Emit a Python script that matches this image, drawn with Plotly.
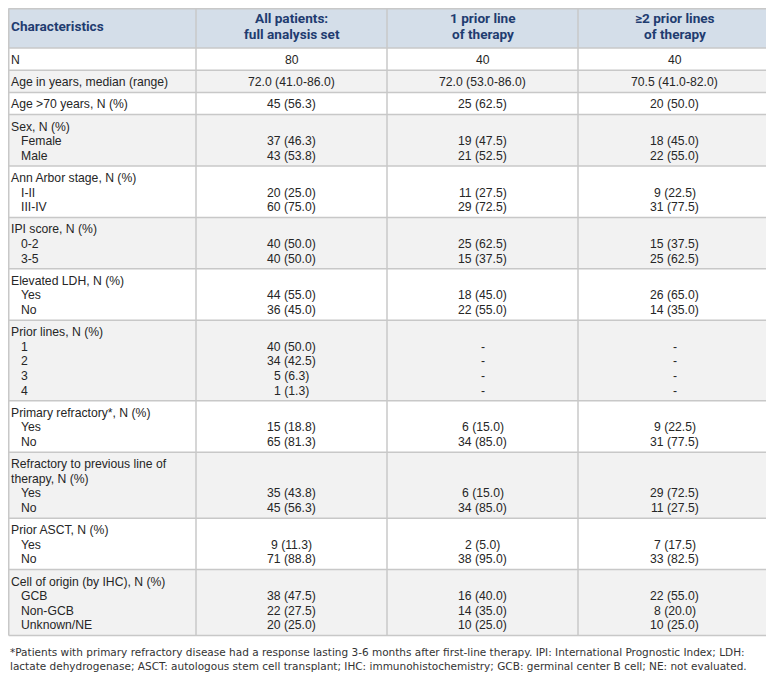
import plotly.graph_objects as go

# Judul kolom (tiap baris teks header dipisah)
col_headers = [["Characteristics"], ["All patients:", "full analysis set"],
               ["1 prior line", "of therapy"], ["≥2 prior lines", "of therapy"]]

# Baris karakteristik (judul bisa lebih dari satu baris) dan sub-kategori
row_titles = [["N"], ["Age in years, median (range)"], ["Age >70 years, N (%)"],
              ["Sex, N (%)"], ["Ann Arbor stage, N (%)"], ["IPI score, N (%)"],
              ["Elevated LDH, N (%)"], ["Prior lines, N (%)"],
              ["Primary refractory*, N (%)"],
              ["Refractory to previous line of", "therapy, N (%)"],
              ["Prior ASCT, N (%)"], ["Cell of origin (by IHC), N (%)"]]
sub_levels = [[], [], [], ["Female", "Male"], ["I-II", "III-IV"],
              ["0-2", "3-5"], ["Yes", "No"], ["1", "2", "3", "4"],
              ["Yes", "No"], ["Yes", "No"], ["Yes", "No"],
              ["GCB", "Non-GCB", "Unknown/NE"]]

# Nilai per kolom
all_patients = [["80"], ["72.0 (41.0-86.0)"], ["45 (56.3)"],
                ["37 (46.3)", "43 (53.8)"], ["20 (25.0)", "60 (75.0)"],
                ["40 (50.0)", "40 (50.0)"], ["44 (55.0)", "36 (45.0)"],
                ["40 (50.0)", "34 (42.5)", "5 (6.3)", "1 (1.3)"],
                ["15 (18.8)", "65 (81.3)"], ["35 (43.8)", "45 (56.3)"],
                ["9 (11.3)", "71 (88.8)"],
                ["38 (47.5)", "22 (27.5)", "20 (25.0)"]]
one_prior = [["40"], ["72.0 (53.0-86.0)"], ["25 (62.5)"],
             ["19 (47.5)", "21 (52.5)"], ["11 (27.5)", "29 (72.5)"],
             ["25 (62.5)", "15 (37.5)"], ["18 (45.0)", "22 (55.0)"],
             ["-", "-", "-", "-"],
             ["6 (15.0)", "34 (85.0)"], ["6 (15.0)", "34 (85.0)"],
             ["2 (5.0)", "38 (95.0)"],
             ["16 (40.0)", "14 (35.0)", "10 (25.0)"]]
two_plus_prior = [["40"], ["70.5 (41.0-82.0)"], ["20 (50.0)"],
                  ["18 (45.0)", "22 (55.0)"], ["9 (22.5)", "31 (77.5)"],
                  ["15 (37.5)", "25 (62.5)"], ["26 (65.0)", "14 (35.0)"],
                  ["-", "-", "-", "-"],
                  ["9 (22.5)", "31 (77.5)"], ["29 (72.5)", "11 (27.5)"],
                  ["7 (17.5)", "33 (82.5)"],
                  ["22 (55.0)", "8 (20.0)", "10 (25.0)"]]

footnote_lines = [
    "*Patients with primary refractory disease had a response lasting 3-6 months after "
    "first-line therapy. IPI: International Prognostic Index; LDH:",
    "lactate dehydrogenase; ASCT: autologous stem cell transplant; IHC: immunohistochemistry; "
    "GCB: germinal center B cell; NE: not evaluated.",
]

# Tata letak (piksel halaman). Halaman html punya margin body 8px,
# jadi sumbu digeser 8px supaya posisi cocok dengan gambar asli.
PAGE_OFF = 8
col_edges = [2, 196, 387, 578, 771]
table_top = 3
header_h = 45
line_h = 14.6
pad = 3.8
left_text_x = 9
indent = 10

HEADER_BG = "#d4dee9"
ROW_BG = ["#ffffff", "#f2f2f2"]
GRID = "#c8c8c8"
HEADER_FONT = dict(family="Roboto", size=13.6, color="#1f3c70", weight="bold")
BODY_FONT = dict(family="Liberation Sans", size=12.2, color="#262626")

fig = go.Figure()


def text_at(x, y, s, anchor, font):
    fig.add_annotation(x=x, y=y, xref="x", yref="y", text=s, showarrow=False,
                       xanchor=anchor, yanchor="middle", font=font)


# Header
fig.add_shape(type="rect", x0=col_edges[0], x1=col_edges[-1], y0=table_top,
              y1=table_top + header_h, fillcolor=HEADER_BG, line_width=0, layer="below")
for c, lines in enumerate(col_headers):
    n = len(lines)
    for i, s in enumerate(lines):
        y = table_top + header_h / 2 + (i - (n - 1) / 2) * 16
        if c == 0:
            text_at(left_text_x, y, s, "left", HEADER_FONT)
        else:
            text_at((col_edges[c] + col_edges[c + 1]) / 2, y, s, "center", HEADER_FONT)

# Body
value_cols = [all_patients, one_prior, two_plus_prior]
row_edges = [table_top + header_h]
for r, (title, subs) in enumerate(zip(row_titles, sub_levels)):
    top = row_edges[-1]
    n_lines = len(title) + len(subs)
    bottom = top + 2 * pad + n_lines * line_h
    fig.add_shape(type="rect", x0=col_edges[0], x1=col_edges[-1], y0=top, y1=bottom,
                  fillcolor=ROW_BG[r % 2], line_width=0, layer="below")

    def line_y(i):
        return top + pad + (i + 0.5) * line_h + 0.8

    for i, s in enumerate(title):
        text_at(left_text_x, line_y(i), s, "left", BODY_FONT)
    for i, s in enumerate(subs):
        text_at(left_text_x + indent, line_y(len(title) + i), s, "left", BODY_FONT)

    start = len(title) if subs else 0
    for c, col in enumerate(value_cols):
        xc = (col_edges[c + 1] + col_edges[c + 2]) / 2
        for i, s in enumerate(col[r]):
            text_at(xc, line_y(start + i), s, "center", BODY_FONT)
    row_edges.append(bottom)

table_bottom = row_edges[-1]

# Garis tabel (tepi kiri/atas dijaga tetap terlihat di dalam figure)
edge_min = PAGE_OFF + 0.75
for y in [max(table_top, edge_min)] + row_edges:
    fig.add_shape(type="line", x0=max(col_edges[0], edge_min), x1=col_edges[-1], y0=y, y1=y,
                  line=dict(color=GRID, width=1.5))
for x in col_edges:
    fig.add_shape(type="line", x0=max(x, edge_min), x1=max(x, edge_min),
                  y0=max(table_top, edge_min), y1=table_bottom,
                  line=dict(color=GRID, width=1.5))

# Catatan kaki (satu teks, dua baris)
fig.add_annotation(x=PAGE_OFF, y=table_bottom + 23.5, xref="x", yref="y",
                   text="<br>".join(footnote_lines), showarrow=False,
                   xanchor="left", yanchor="middle", align="left",
                   font=dict(family="DejaVu Sans", size=10.5, color="#333333"))

fig.update_xaxes(range=[PAGE_OFF, 774 + PAGE_OFF], visible=False, fixedrange=True)
fig.update_yaxes(range=[678 + PAGE_OFF, PAGE_OFF], visible=False, fixedrange=True)
fig.update_layout(width=774, height=678, margin=dict(l=0, r=0, t=0, b=0),
                  paper_bgcolor="white", plot_bgcolor="white", showlegend=False)

fig.write_html("out.html")
